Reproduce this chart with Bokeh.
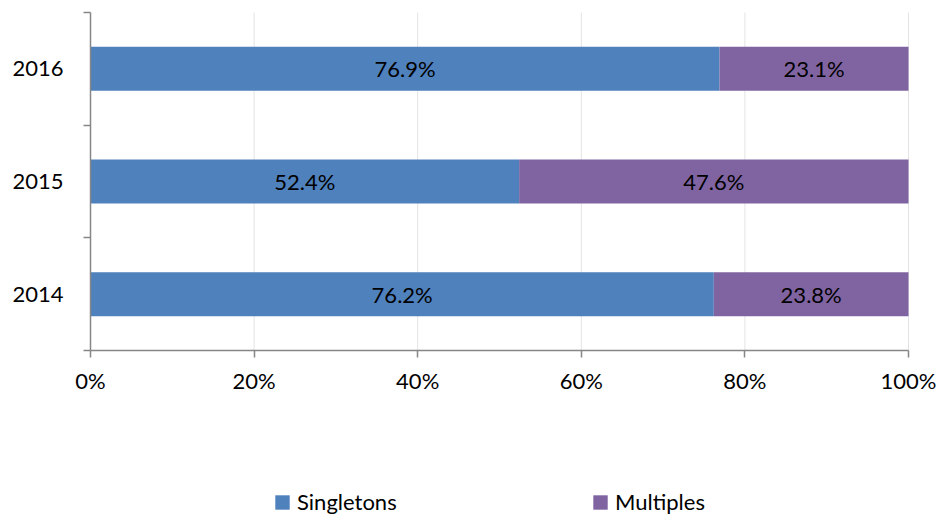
from bokeh.plotting import figure
from bokeh.models import (ColumnDataSource, FixedTicker, PrintfTickFormatter, Legend,
                          LegendItem, Range1d)
from bokeh.core.properties import value
from bokeh.embed import file_html
from bokeh.resources import INLINE

years = ["2014", "2015", "2016"]
singletons = [76.2, 52.4, 76.9]
multiples = [23.8, 47.6, 23.1]
x_ticks = [0, 20, 40, 60, 80, 100]

BLUE = "#4F81BD"
PURPLE = "#8064A2"
AXIS = "#868686"
GRID = "#e3e3e3"
FONT = "Lato"
FS = "22px"

# canvas and plot-area pixel layout
W, H = 942, 515
LEFT, RIGHT = 90, 908     # pixel columns of 0% and 100%
TOP, AXIS_Y = 12, 350     # pixel rows of the plot top and of the x axis
n = len(years)
xmax = 100
xpx = (RIGHT - LEFT) / xmax
ypx = (AXIS_Y - TOP) / n
x_start, x_end = -LEFT / xpx, xmax + (W - RIGHT) / xpx
y_start, y_end = -(H - AXIS_Y) / ypx, n + TOP / ypx

ypos = [i + 0.5 for i in range(n)]
src = ColumnDataSource(dict(
    y=ypos,
    send=singletons,
    mend=[a + b for a, b in zip(singletons, multiples)],
    sc=[a / 2 for a in singletons],
    mc=[a + b / 2 for a, b in zip(singletons, multiples)],
    sl=["%.1f%%" % v for v in singletons],
    ml=["%.1f%%" % v for v in multiples],
))
gsrc = ColumnDataSource(dict(x=x_ticks[1:], y0=[0] * (len(x_ticks) - 1), y1=[n] * (len(x_ticks) - 1)))

p = figure(width=W, height=H, output_backend="svg", toolbar_location=None,
           x_range=Range1d(x_start, x_end), y_range=Range1d(y_start, y_end),
           min_border_left=0, min_border_right=0, min_border_top=0, min_border_bottom=0)
p.outline_line_color = None
p.background_fill_color = "white"
p.border_fill_color = "white"
p.xgrid.grid_line_color = None
p.ygrid.grid_line_color = None

# vertical gridlines limited to the plot area
p.segment(x0="x", x1="x", y0="y0", y1="y1", source=gsrc, line_color=GRID, line_width=1)

r1 = p.hbar(y="y", left=0, right="send", height=0.39, source=src,
            fill_color=BLUE, line_color=None)
r2 = p.hbar(y="y", left="send", right="mend", height=0.39, source=src,
            fill_color=PURPLE, line_color=None)

p.text(x="sc", y="y", text="sl", source=src, text_align="center", text_baseline="middle",
       text_font=value(FONT), text_font_size=FS, text_color="black")
p.text(x="mc", y="y", text="ml", source=src, text_align="center", text_baseline="middle",
       text_font=value(FONT), text_font_size=FS, text_color="black")

# x axis, pinned at y = 0
xa = p.xaxis[0]
xa.fixed_location = 0
xa.bounds = (0, xmax)
xa.ticker = FixedTicker(ticks=x_ticks)
xa.formatter = PrintfTickFormatter(format="%d%%")
xa.axis_line_color = AXIS
xa.axis_line_width = 1.5
xa.major_tick_line_color = AXIS
xa.major_tick_line_width = 1.5
xa.major_tick_in = 0
xa.major_tick_out = 7
xa.minor_tick_line_color = None
xa.major_label_standoff = 9
xa.major_label_text_font = FONT
xa.major_label_text_font_size = FS
xa.major_label_text_color = "black"

# y axis, pinned at x = 0
ya = p.yaxis[0]
ya.fixed_location = 0
ya.bounds = (0, n)
ya.ticker = FixedTicker(ticks=ypos, minor_ticks=[float(i) for i in range(n + 1)])
ya.major_label_overrides = {pos: yr for pos, yr in zip(ypos, years)}
ya.axis_line_color = AXIS
ya.axis_line_width = 1.5
ya.major_tick_line_color = None
ya.major_tick_in = 0
ya.major_tick_out = 0
ya.minor_tick_line_color = AXIS
ya.minor_tick_line_width = 1.5
ya.minor_tick_in = 0
ya.minor_tick_out = 7
ya.major_label_standoff = 20
ya.major_label_text_font = FONT
ya.major_label_text_font_size = FS
ya.major_label_text_color = "black"

legend = Legend(items=[LegendItem(label="Singletons", renderers=[r1]),
                       LegendItem(label="Multiples", renderers=[r2])],
                location=(273, 0), orientation="horizontal",
                glyph_width=18, glyph_height=18, label_standoff=6, label_width=294,
                label_text_font=FONT, label_text_font_size=FS, label_text_color="black",
                padding=0, margin=0, spacing=0,
                border_line_color=None, background_fill_alpha=0)
p.add_layout(legend, "center")

open("out.html", "w").write(file_html(p, INLINE))
